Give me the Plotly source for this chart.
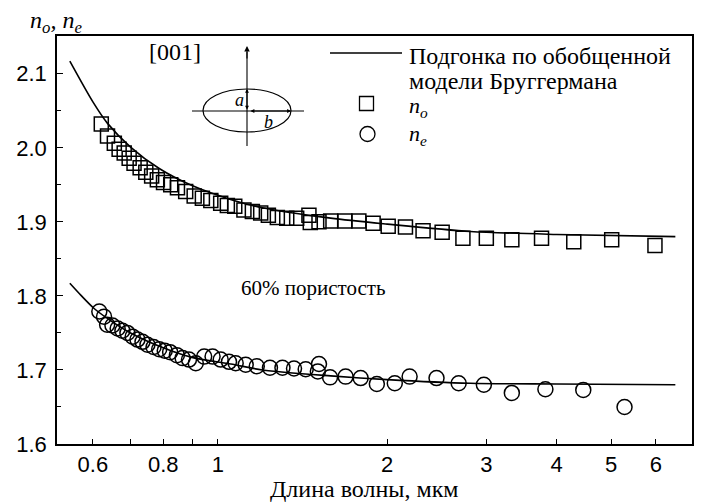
import plotly.graph_objects as go

# Measured ordinary index n_o (squares)
wl_o = [0.621, 0.637, 0.655, 0.668, 0.682, 0.696, 0.710, 0.728, 0.745, 0.763,
        0.781, 0.801, 0.825, 0.848, 0.877, 0.908, 0.939, 0.972, 1.012, 1.040,
        1.072, 1.113, 1.152, 1.192, 1.230, 1.276, 1.326, 1.381, 1.452, 1.460,
        1.513, 1.587, 1.682, 1.781, 1.888, 2.008, 2.155, 2.316, 2.504, 2.726,
        3.00, 3.33, 3.76, 4.29, 5.01, 5.98]
n_o = [2.032, 2.016, 2.006, 1.998, 1.993, 1.986, 1.979, 1.973, 1.967, 1.962,
       1.957, 1.953, 1.950, 1.946, 1.941, 1.935, 1.932, 1.929, 1.925, 1.922,
       1.921, 1.916, 1.914, 1.912, 1.909, 1.906, 1.905, 1.905, 1.909, 1.899,
       1.900, 1.901, 1.901, 1.901, 1.898, 1.894, 1.893, 1.888, 1.886, 1.878,
       1.878, 1.876, 1.878, 1.873, 1.876, 1.868]

# Measured extraordinary index n_e (circles)
wl_e = [0.616, 0.628, 0.636, 0.650, 0.664, 0.677, 0.691, 0.706, 0.720, 0.735,
        0.750, 0.769, 0.787, 0.805, 0.823, 0.846, 0.866, 0.889, 0.914, 0.946,
        0.979, 1.012, 1.047, 1.076, 1.121, 1.173, 1.238, 1.303, 1.366, 1.433,
        1.513, 1.506, 1.583, 1.687, 1.794, 1.917, 2.063, 2.192, 2.447, 2.679,
        2.97, 3.33, 3.82, 4.46, 5.28]
n_e = [1.779, 1.772, 1.761, 1.760, 1.756, 1.753, 1.750, 1.745, 1.741, 1.738,
       1.734, 1.731, 1.728, 1.726, 1.724, 1.720, 1.716, 1.714, 1.709, 1.718,
       1.718, 1.714, 1.711, 1.709, 1.707, 1.705, 1.703, 1.703, 1.702, 1.701,
       1.708, 1.698, 1.690, 1.691, 1.689, 1.681, 1.682, 1.691, 1.689, 1.682,
       1.680, 1.669, 1.674, 1.673, 1.650]

# Generalised Bruggeman model fit curves
fit_wl_o = [0.546, 0.60, 0.637, 0.70, 0.787, 0.90, 1.057, 1.20, 1.587, 2.0, 2.81, 4.0, 6.5]
fit_n_o = [2.117, 2.062, 2.033, 2.001, 1.972, 1.949, 1.930, 1.919, 1.905, 1.897, 1.887, 1.883, 1.880]
fit_wl_e = [0.546, 0.571, 0.603, 0.65, 0.70, 0.80, 0.90, 1.055, 1.20, 1.587, 2.0, 2.81, 4.0, 6.5]
fit_n_e = [1.817, 1.801, 1.783, 1.765, 1.750, 1.730, 1.717, 1.708, 1.700, 1.692, 1.687, 1.682, 1.681, 1.680]

x_tickvals = [0.6, 0.7, 0.8, 0.9, 1, 2, 3, 4, 5, 6]
x_ticktext = ["0.6", "", "0.8", "", "1", "2", "3", "4", "5", "6"]

SANS = "Liberation Sans, Arial, sans-serif"
SERIF = "Liberation Serif, Times New Roman, serif"

W, H = 703, 504
L, R, T, B = 57, 11, 36, 60
PW, PH = W - L - R, H - T - B


def px(x):
    return (x - L) / PW


def py(y):
    return (H - B - y) / PH


fig = go.Figure()

fig.add_trace(go.Scatter(x=wl_o, y=n_o, mode="markers",
                         marker=dict(symbol="square-open", size=14, color="black",
                                     line=dict(width=1.5, color="black"))))
fig.add_trace(go.Scatter(x=wl_e, y=n_e, mode="markers",
                         marker=dict(symbol="circle-open", size=15, color="black",
                                     line=dict(width=1.5, color="black"))))
fig.add_trace(go.Scatter(x=fit_wl_o, y=fit_n_o, mode="lines",
                         line=dict(color="black", width=1.6, shape="spline", smoothing=0.8)))
fig.add_trace(go.Scatter(x=fit_wl_e, y=fit_n_e, mode="lines",
                         line=dict(color="black", width=1.6, shape="spline", smoothing=0.8)))

shapes = []
annotations = []

# Legend glyphs
shapes.append(dict(type="line", xref="paper", yref="paper",
                   x0=px(330), x1=px(402), y0=py(53), y1=py(53),
                   line=dict(color="black", width=1.6)))
shapes.append(dict(type="rect", xref="paper", yref="paper",
                   x0=px(359.5), x1=px(373.5), y0=py(110.5), y1=py(96.5),
                   line=dict(color="black", width=1.3)))
shapes.append(dict(type="circle", xref="paper", yref="paper",
                   x0=px(360), x1=px(375), y0=py(141.5), y1=py(126.5),
                   line=dict(color="black", width=1.3)))

leg_font = dict(family=SERIF, size=24, color="black")
annotations.append(dict(xref="paper", yref="paper", x=px(407), y=py(56),
                        text="Подгонка по обобщенной", showarrow=False,
                        xanchor="left", yanchor="middle", font=leg_font))
annotations.append(dict(xref="paper", yref="paper", x=px(407), y=py(81),
                        text="модели Бруггермана", showarrow=False,
                        xanchor="left", yanchor="middle", font=leg_font))
annotations.append(dict(xref="paper", yref="paper", x=px(407), y=py(107),
                        text="<i>n</i><sub><i>o</i></sub>", showarrow=False,
                        xanchor="left", yanchor="middle",
                        font=dict(family=SERIF, size=22, color="black")))
annotations.append(dict(xref="paper", yref="paper", x=px(407), y=py(135),
                        text="<i>n</i><sub><i>e</i></sub>", showarrow=False,
                        xanchor="left", yanchor="middle",
                        font=dict(family=SERIF, size=22, color="black")))

# Axis titles and other labels
annotations.append(dict(xref="paper", yref="paper", x=px(84), y=py(22),
                        text="<i>n</i><sub><i>o</i></sub><i>, n</i><sub><i>e</i></sub>",
                        showarrow=False, xanchor="right", yanchor="middle",
                        font=dict(family=SERIF, size=24, color="black")))
annotations.append(dict(xref="paper", yref="paper", x=px(364), y=py(489),
                        text="Длина волны, мкм", showarrow=False,
                        xanchor="center", yanchor="middle",
                        font=dict(family=SERIF, size=24, color="black")))
annotations.append(dict(xref="paper", yref="paper", x=px(175), y=py(52),
                        text="[001]", showarrow=False, xanchor="center", yanchor="middle",
                        font=dict(family=SERIF, size=24, color="black")))
annotations.append(dict(xref="paper", yref="paper", x=px(313), y=py(288),
                        text="60% пористость", showarrow=False, xanchor="center",
                        yanchor="middle", font=dict(family=SERIF, size=21, color="black")))

# Ellipse sketch with its semi-axes
cx, cy = 247, 111
shapes.append(dict(type="circle", xref="paper", yref="paper",
                   x0=px(203), x1=px(291), y0=py(132), y1=py(89),
                   line=dict(color="black", width=1.2)))
shapes.append(dict(type="line", xref="paper", yref="paper",
                   x0=px(192), x1=px(304), y0=py(cy), y1=py(cy),
                   line=dict(color="black", width=1.1)))
shapes.append(dict(type="line", xref="paper", yref="paper",
                   x0=px(cx), x1=px(cx), y0=py(146), y1=py(52),
                   line=dict(color="black", width=1.1)))
annotations.append(dict(xref="paper", yref="paper", x=px(cx), y=py(46),
                        ax=0, ay=14, text="",
                        showarrow=True, arrowhead=2, arrowsize=1, arrowwidth=1.1,
                        arrowcolor="black"))
annotations.append(dict(xref="paper", yref="paper", x=px(cx), y=py(89),
                        ax=0, ay=22, text="",
                        showarrow=True, arrowhead=2, startarrowhead=2, arrowside="end+start",
                        arrowsize=0.7, arrowwidth=1.1, arrowcolor="black"))
annotations.append(dict(xref="paper", yref="paper", x=px(291), y=py(cy),
                        ax=-42, ay=0, text="",
                        showarrow=True, arrowhead=2, startarrowhead=2, arrowside="end+start",
                        arrowsize=0.7, arrowwidth=1.1, arrowcolor="black"))
annotations.append(dict(xref="paper", yref="paper", x=px(239), y=py(100),
                        text="<i>a</i>", showarrow=False, xanchor="center", yanchor="middle",
                        font=dict(family=SERIF, size=18, color="black")))
annotations.append(dict(xref="paper", yref="paper", x=px(268), y=py(122),
                        text="<i>b</i>", showarrow=False, xanchor="center", yanchor="middle",
                        font=dict(family=SERIF, size=18, color="black")))

fig.update_layout(
    width=W, height=H,
    margin=dict(l=L, r=R, t=T, b=B, pad=0),
    paper_bgcolor="white", plot_bgcolor="white",
    showlegend=False,
    shapes=shapes, annotations=annotations,
    xaxis=dict(type="log", range=[-0.2856, 0.8425], automargin=False,
               tickvals=x_tickvals, ticktext=x_ticktext,
               ticks="inside", ticklen=5, tickwidth=1.3, tickcolor="black",
               ticklabelstandoff=0,
               showline=True, linecolor="black", linewidth=1.6, mirror=True,
               showgrid=False, zeroline=False,
               tickfont=dict(family=SANS, size=22, color="black")),
    yaxis=dict(range=[1.6, 2.151], tick0=1.6, dtick=0.1, tickformat=".1f",
               automargin=False,
               ticks="inside", ticklen=6, tickwidth=1.3, tickcolor="black",
               ticklabelstandoff=4,
               minor=dict(dtick=0.05, tick0=1.6, ticks="inside", ticklen=4,
                          tickwidth=1.3, tickcolor="black", showgrid=False),
               showline=True, linecolor="black", linewidth=1.6, mirror=True,
               showgrid=False, zeroline=False,
               tickfont=dict(family=SANS, size=22, color="black")),
)

fig.write_html("out.html")
